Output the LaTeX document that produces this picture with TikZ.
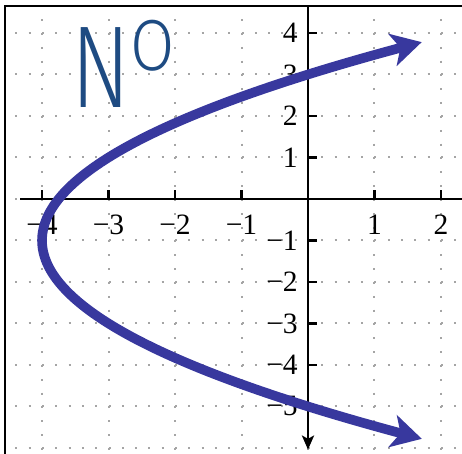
\documentclass[tikz,border=0pt]{standalone}
\usepackage{fontspec}
\setmainfont{Liberation Serif}
\IfFontExistsTF{Fira Sans Light}{\newfontfamily\handfont{Fira Sans Light}}{%
  \IfFontExistsTF{Noto Sans Light}{\newfontfamily\handfont{Noto Sans Light}}{%
    \newfontfamily\handfont{Fira Sans}}}
\usetikzlibrary{arrows.meta}
\definecolor{curveblue}{RGB}{56,56,158}
\definecolor{inkblue}{RGB}{30,75,130}
\definecolor{griddot}{RGB}{165,165,165}

\begin{document}
\begin{tikzpicture}[x=1.6625cm, y=1.0375cm, font=\fontsize{21}{24}\selectfont,
    gridh/.style={griddot, line width=0.05cm, dash pattern=on 0.05cm off 0.2825cm},
    gridv/.style={griddot, line width=0.05cm, dash pattern=on 0.05cm off 0.2958cm},
    axisline/.style={line width=0.07cm},
    tickmark/.style={line width=0.06cm},
    handnote/.style={inkblue, font=\handfont\fontsize{83}{90}\selectfont, inner sep=0pt}]

\useasboundingbox (-4.632,-6.145) rectangle (2.316,4.795);

% grid titik
\foreach \y in {-6,...,4} {
    \draw[gridh] (-4.4,\y) -- (2.316,\y);
}
\foreach \x in {-4,...,2} {
    \draw[gridv] (\x,4.667) -- (\x,-6.145);
}

% bingkai
\draw[line width=0.05cm] (-4.556,-6.145) -- (-4.556,4.651) -- (2.316,4.651);

% sumbu horizontal (x)
\draw[axisline] (-4.33,0) -- (2.316,0);
\foreach \x/\t in {-4/−4, -3/−3, -2/−2, -1/−1, 1/1, 2/2} {
    \draw[tickmark] (\x,0) -- (\x,0.217);
    \node (xl\x) at (\x,-0.627) {\t};
}

% sumbu vertikal (y)
\draw[axisline, -{Stealth[length=0.35cm, width=0.3cm, inset=0.08cm]}] (0,4.651) -- (0,-6.04);
\foreach \y/\t in {4/4, 3/3, 2/2, 1/1, -1/−1, -2/−2, -3/−3, -4/−4, -5/−5} {
    \draw[tickmark] (0,\y) -- (0.135,\y);
    \node[anchor=east, inner sep=0pt] (yl\y) at (-0.15,\y) {\t};
}

% parabola
\draw[curveblue, line width=0.24cm,
      arrows={Stealth[length=0.75cm, width=0.82cm, inset=0.2cm]-Stealth[length=0.75cm, width=0.82cm, inset=0.2cm]}]
    plot[domain=-5.78:3.78, samples=80, smooth, variable=\t] ({(\t+1)^2/4-4}, \t);

% catatan tangan
\node[handnote, anchor=base west] (note) at (-3.56,2.193)
    {\scalebox{0.75}[1]{N}\hspace{0pt}\raisebox{27pt}{\scalebox{0.55}[0.62]{O}}};

\end{tikzpicture}
\end{document}
